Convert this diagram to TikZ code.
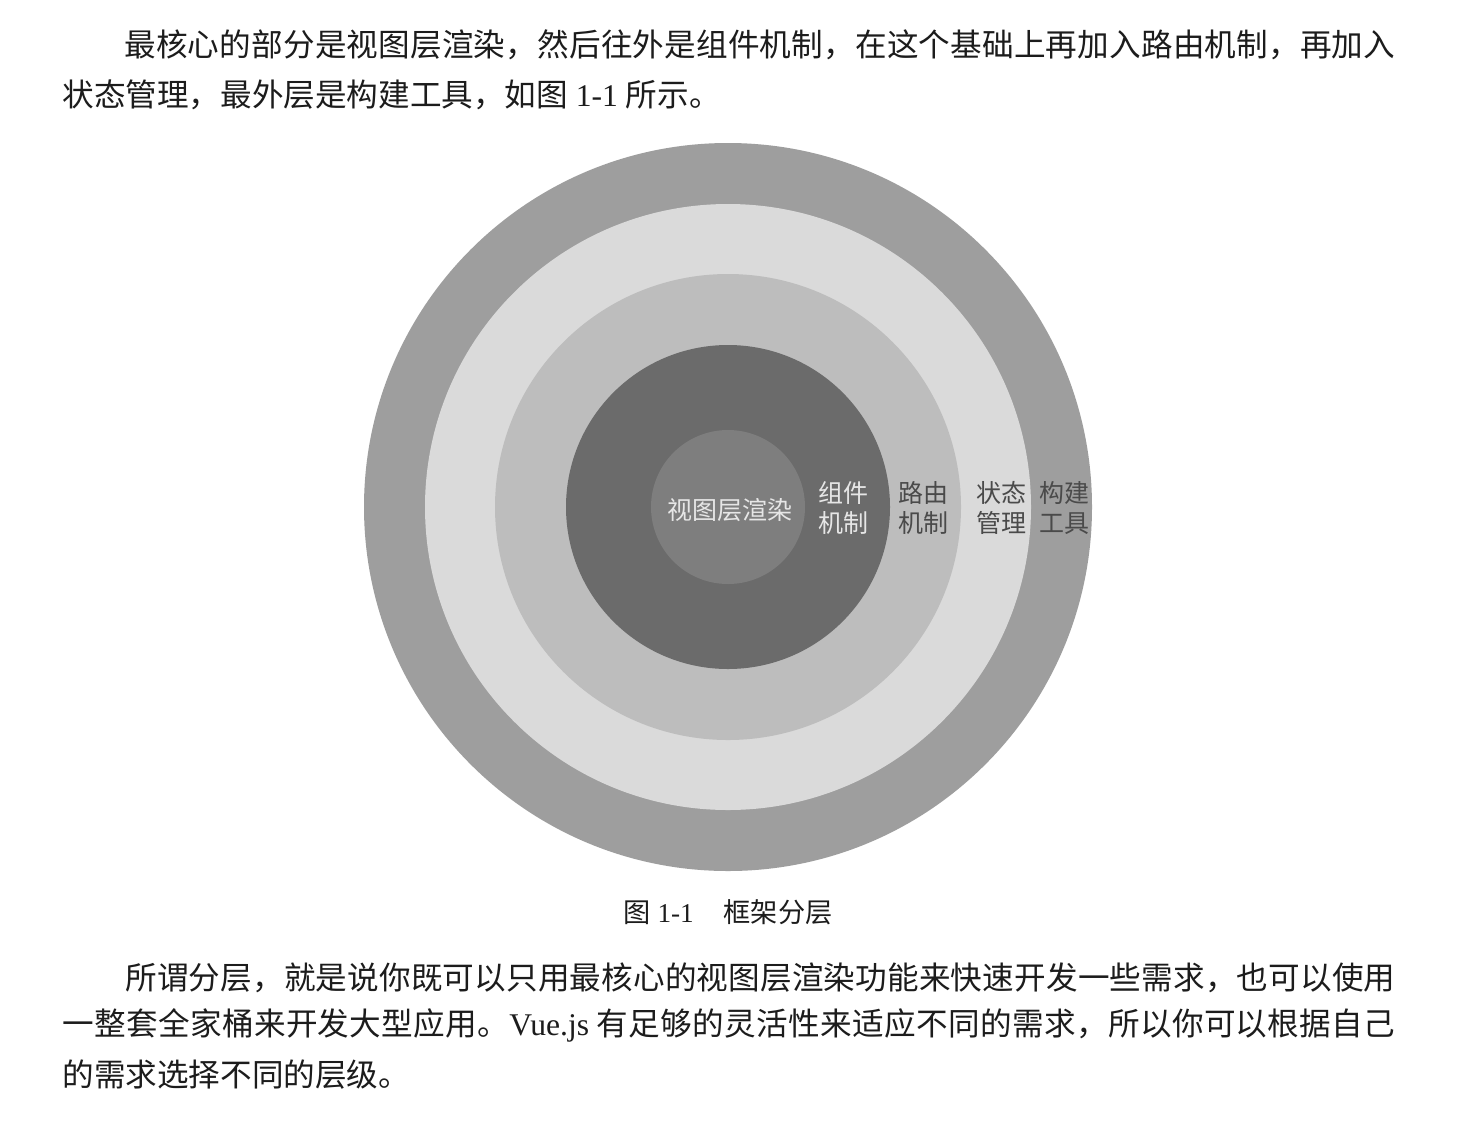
\documentclass[tikz,border=0pt]{standalone}
\usepackage{fontspec}
\setmainfont{Liberation Serif}
\newfontfamily\cjk{Noto Sans CJK SC}
\XeTeXinterchartokenstate=1
\newXeTeXintercharclass\myhan
\newcount\mycnt
\mycnt="4E00
\loop\XeTeXcharclass\mycnt=\myhan\advance\mycnt by 1 \ifnum\mycnt<"A000 \repeat
\XeTeXcharclass"FF0C=\myhan
\XeTeXcharclass"3002=\myhan
\XeTeXinterchartoks\myhan\myhan={\hskip0pt plus 1fil}
\definecolor{ringA}{HTML}{9E9E9E}
\definecolor{ringB}{HTML}{DADADA}
\definecolor{ringC}{HTML}{BDBDBD}
\definecolor{ringD}{HTML}{6B6B6B}
\definecolor{ringE}{HTML}{7E7E7E}
\definecolor{lablight}{HTML}{E6E6E6}
\definecolor{labdark}{HTML}{4A4A4A}
\definecolor{bodytxt}{HTML}{1C1C1C}
\begin{document}
\begin{tikzpicture}[x=0.5pt,y=-0.5pt,
  body/.style={anchor=west,inner sep=0pt,text=bodytxt,font=\fontsize{15.8pt}{18pt}\selectfont},
  captxt/.style={inner sep=0pt,text=bodytxt,font=\fontsize{13.6pt}{16pt}\selectfont},
  lab/.style={inner sep=0pt,align=center,font=\fontsize{12.5pt}{15pt}\selectfont\cjk}]
\useasboundingbox[fill=white] (0,0) rectangle (1466,1120);
% concentric rings
\coordinate (c) at (728,507);
\fill[ringA] (c) circle (364);
\fill[ringB] (c) circle (303);
\fill[ringC] (c) circle (233);
\fill[ringD] (c) circle (162);
\fill[ringE] (c) circle (77);
% labels
\node[lab,text=lablight] (l1) at (730,510) {视图层渲染};
\node[lab,text=lablight] (l2) at (843,508) {组件\\机制};
\node[lab,text=labdark] (l3) at (923,508) {路由\\机制};
\node[lab,text=labdark] (l4) at (1001,508) {状态\\管理};
\node[lab,text=labdark] (l5) at (1064,508) {构建\\工具};
% top paragraph
\node[body] (t1) at (124,45) {\hbox to 635.5pt{\cjk 最核心的部分是视图层渲染，然后往外是组件机制，在这个基础上再加入路由机制，再加入}};
\node[body] (t2) at (62,95) {{\cjk 状态管理，最外层是构建工具，如图} 1-1 {\cjk 所示。}};
% caption
\node[captxt] (cp) at (728,912) {{\cjk 图} 1-1\hspace{1.1em}{\cjk 框架分层}};
% bottom paragraph
\node[body] (b1) at (125,978) {\hbox to 635pt{\cjk 所谓分层，就是说你既可以只用最核心的视图层渲染功能来快速开发一些需求，也可以使用}};
\node[body] (b2) at (62,1025) {\hbox to 666.5pt{{\cjk 一整套全家桶来开发大型应用。}Vue.js {\cjk 有足够的灵活性来适应不同的需求，所以你可以根据自己}}};
\node[body] (b3) at (62,1075) {\cjk 的需求选择不同的层级。};
\end{tikzpicture}
\end{document}
